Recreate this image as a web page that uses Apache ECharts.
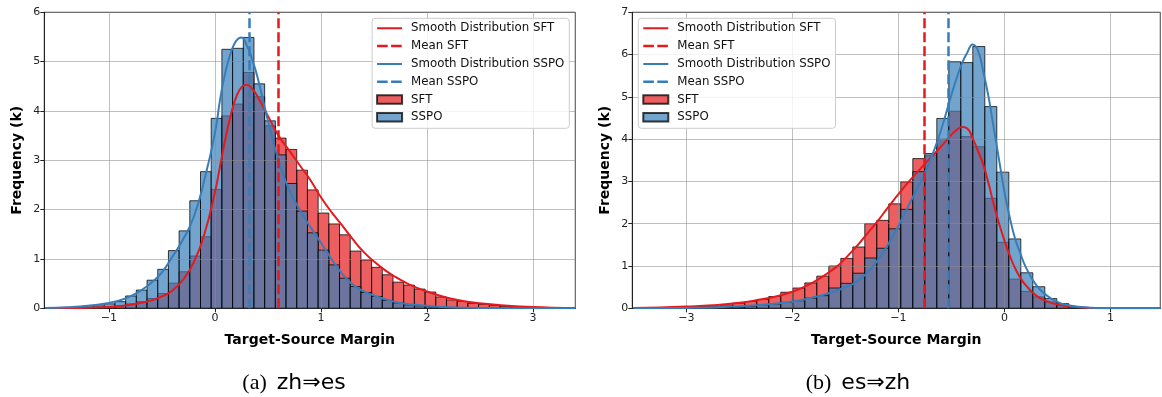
<!DOCTYPE html>
<html>
<head>
<meta charset="utf-8">
<script src="https://cdn.jsdelivr.net/npm/echarts@6.0.0/dist/echarts.min.js"></script>
<style>
html,body{margin:0;padding:0;background:#ffffff;}
#chart{width:1162px;height:397px;}
</style>
</head>
<body>
<div id="chart"></div>
<script>
// ================= DATA =================
// Panel (a) zh⇒es : histogram bins (frequency in thousands)
const binStartA = -1.347;
const binWidthA = 0.1009;
const sftCountsA = [0.005,0.01,0.01,0.03,0.05,0.09,0.135,0.20,0.30,0.51,0.74,1.06,1.45,2.41,3.90,4.14,4.78,4.29,3.70,3.45,3.22,2.80,2.40,1.93,1.71,1.49,1.16,0.98,0.83,0.68,0.53,0.47,0.39,0.33,0.23,0.17,0.14,0.10,0.08,0.055,0.04,0.03,0.02,0.015,0.01,0.008];
const sspoCountsA = [0.015,0.03,0.05,0.09,0.135,0.25,0.37,0.57,0.79,1.17,1.57,2.18,2.77,3.85,5.25,5.27,5.49,4.55,3.80,3.11,2.53,1.97,1.53,1.18,0.88,0.61,0.44,0.32,0.24,0.16,0.11,0.07,0.05,0.03,0.02,0.01,0.005,0,0,0,0,0,0,0,0,0];
// Panel (a) smooth distributions
const kdeXA = [-1.6,-1.4,-1.2,-1.0,-0.9,-0.8,-0.7,-0.6,-0.5,-0.4,-0.3,-0.2,-0.1,0,0.05,0.1,0.15,0.2,0.25,0.3,0.35,0.4,0.5,0.6,0.7,0.8,0.9,1.0,1.1,1.2,1.3,1.4,1.5,1.6,1.7,1.8,1.9,2.0,2.2,2.4,2.6,2.8,3.0,3.2,3.4];
const kdeSftA = [0.002,0.006,0.012,0.025,0.045,0.07,0.11,0.16,0.24,0.36,0.58,0.93,1.5,2.35,2.9,3.45,3.92,4.28,4.48,4.53,4.45,4.3,3.9,3.5,3.2,2.9,2.6,2.25,1.95,1.68,1.4,1.15,0.95,0.78,0.64,0.52,0.42,0.34,0.21,0.13,0.08,0.045,0.025,0.012,0.005];
const kdeSspoA = [0.005,0.02,0.05,0.11,0.16,0.24,0.36,0.52,0.73,1.05,1.4,1.85,2.6,3.55,4.25,4.8,5.18,5.42,5.49,5.33,5.05,4.7,3.8,3.0,2.4,2.0,1.65,1.33,1.0,0.7,0.48,0.35,0.26,0.19,0.13,0.09,0.07,0.05,0.02,0.01,0.005,0.002,0.001,0,0];
const meanSftA = 0.605;
const meanSspoA = 0.32;

// Panel (b) es⇒zh : histogram bins
const binStartB = -3.468;
const binWidthB = 0.1132;
const sftCountsB = [0.005,0.01,0.015,0.02,0.03,0.04,0.05,0.08,0.12,0.16,0.21,0.28,0.38,0.48,0.60,0.76,1.00,1.18,1.45,2.00,2.08,2.47,2.99,3.54,3.62,4.00,4.66,4.06,3.82,2.60,1.56,0.69,0.40,0.27,0.15,0.08,0.03,0.01];
const sspoCountsB = [0,0,0,0.003,0.005,0.008,0.01,0.02,0.03,0.05,0.08,0.10,0.14,0.18,0.24,0.30,0.48,0.59,0.83,1.19,1.42,1.88,2.34,3.23,3.66,4.49,5.83,5.81,6.19,4.77,3.22,1.64,0.84,0.51,0.23,0.11,0.04,0.02];
// Panel (b) smooth distributions
const kdeXB = [-3.5,-3.25,-3.0,-2.75,-2.5,-2.25,-2.0,-1.8,-1.6,-1.5,-1.4,-1.3,-1.2,-1.1,-1.0,-0.9,-0.8,-0.7,-0.6,-0.5,-0.45,-0.4,-0.35,-0.3,-0.25,-0.2,-0.15,-0.1,-0.05,0,0.05,0.1,0.15,0.2,0.3,0.4,0.5,0.6,0.8,1.0,1.2,1.47];
const kdeSftB = [0.01,0.02,0.04,0.07,0.13,0.23,0.39,0.62,0.95,1.18,1.45,1.75,2.05,2.38,2.7,3.0,3.28,3.55,3.82,4.1,4.22,4.29,4.25,4.02,3.72,3.4,2.95,2.45,2.0,1.6,1.25,0.95,0.72,0.55,0.3,0.17,0.09,0.045,0.01,0.003,0.001,0];
const kdeSspoB = [0,0.003,0.008,0.02,0.05,0.09,0.16,0.26,0.4,0.5,0.62,0.83,1.12,1.5,1.95,2.45,2.95,3.5,4.2,5.05,5.45,5.8,6.05,6.24,6.1,5.6,5.0,4.25,3.5,2.75,2.15,1.65,1.3,0.98,0.55,0.3,0.15,0.07,0.015,0.003,0.001,0];
const meanSftB = -0.758;
const meanSspoB = -0.525;

// Text
const xAxisTitle = 'Target-Source Margin';
const yAxisTitle = 'Frequency (k)';
const captionA = ['(a)', 'zh⇒es'];
const captionB = ['(b)', 'es⇒zh'];
const legendNames = ['Smooth Distribution SFT', 'Mean SFT', 'Smooth Distribution SSPO', 'Mean SSPO', 'SFT', 'SSPO'];

// ================= STYLE =================
const FONT = "'DejaVu Sans', sans-serif";
const RED = '#e41a1c';
const BLUE = '#377eb8';
const RED_FILL = 'rgba(228,26,28,0.7)';
const BLUE_FILL = 'rgba(55,126,184,0.7)';
const EDGE = 'rgba(0,0,0,0.75)';
const DASH = [10, 4];
const GRID_LINE = 'rgba(140,140,140,0.55)';
// legend icons (tiny corner dots keep the icon box at 25 x 8.5)
const SOLID_ICON = 'path://M0,0h0.01v0.01h-0.01z M0,3.25h25v2h-25z M24.99,8.49h0.01v0.01h-0.01z';
const DASH_ICON = 'path://M0,0h0.01v0.01h-0.01z M0,3h10.6v2.5h-10.6z M14,3h10.6v2.5h-10.6z M24.99,8.49h0.01v0.01h-0.01z';

function toBins(start, width, counts) {
  return counts.map((c, i) => [start + i * width, start + (i + 1) * width, c]);
}
function toPairs(xs, ys) { return xs.map((x, i) => [x, ys[i]]); }

function histSeries(name, idx, bins, fill) {
  return {
    type: 'custom', name: name, xAxisIndex: idx, yAxisIndex: idx, z: 1,
    itemStyle: { color: fill, borderColor: EDGE, borderWidth: 1 },
    encode: { x: [0, 1], y: 2 },
    silent: true,
    data: bins,
    renderItem: function (params, api) {
      const h = api.value(2);
      if (!(h > 0)) return null;
      const a = api.coord([api.value(0), h]);
      const b = api.coord([api.value(1), 0]);
      return {
        type: 'rect',
        shape: { x: a[0], y: a[1], width: b[0] - a[0], height: b[1] - a[1] },
        style: { fill: fill, stroke: EDGE, lineWidth: 1 }
      };
    }
  };
}
function kdeSeries(name, idx, data, color) {
  return {
    type: 'line', name: name, xAxisIndex: idx, yAxisIndex: idx, z: 3,
    data: data, symbol: 'none', smooth: 0.5, silent: true,
    lineStyle: { color: color, width: 2 }, itemStyle: { color: color }
  };
}
function meanSeries(name, idx, mean, color) {
  return {
    type: 'line', name: name, xAxisIndex: idx, yAxisIndex: idx, z: 4,
    data: [], symbol: 'none', silent: true,
    lineStyle: { color: color, width: 2.5, type: DASH }, itemStyle: { color: color },
    markLine: {
      silent: true, symbol: ['none', 'none'], label: { show: false },
      lineStyle: { color: color, width: 2.5, type: DASH },
      emphasis: { disabled: true },
      data: [{ xAxis: mean }]
    }
  };
}
const minus = v => String(v).replace('-', '\u2212');

function xAxisFor(idx, min, max) {
  return {
    type: 'value', gridIndex: idx, min: min, max: max, minInterval: 1, maxInterval: 1, z: 2,
    name: xAxisTitle, nameLocation: 'middle', nameGap: 25,
    nameTextStyle: { fontFamily: FONT, fontWeight: 'bold', fontSize: 14, color: '#000' },
    axisLine: { show: true, onZero: false, lineStyle: { color: '#222', width: 1 } },
    axisTick: { show: true, length: 4, lineStyle: { color: '#222', width: 1 } },
    axisLabel: { fontFamily: FONT, fontSize: 11, color: '#222', margin: 4, showMinLabel: false, showMaxLabel: false, formatter: minus },
    splitLine: { show: true, lineStyle: { color: GRID_LINE, width: 1 } }
  };
}
function yAxisFor(idx, max) {
  return {
    type: 'value', gridIndex: idx, min: 0, max: max, interval: 1, z: 2,
    name: yAxisTitle, nameLocation: 'middle', nameGap: 20, nameRotate: 90,
    nameTextStyle: { fontFamily: FONT, fontWeight: 'bold', fontSize: 14, color: '#000' },
    axisLine: { show: true, onZero: false, lineStyle: { color: '#222', width: 1 } },
    axisTick: { show: true, length: 4, lineStyle: { color: '#222', width: 1 } },
    axisLabel: { fontFamily: FONT, fontSize: 11, color: '#222', margin: 4 },
    splitLine: { show: true, lineStyle: { color: GRID_LINE, width: 1 } }
  };
}
function legendItem(name) {
  if (name === 'SFT') return { name: name, icon: 'rect' };
  if (name === 'SSPO') return { name: name, icon: 'rect' };
  const color = name.indexOf('SFT') >= 0 ? RED : BLUE;
  const icon = name.indexOf('Mean') === 0 ? DASH_ICON : SOLID_ICON;
  return { name: name, icon: icon, itemStyle: { color: color, borderWidth: 0 } };
}
function legendFor(pos) {
  return Object.assign({
    orient: 'vertical', top: 18.3, padding: [3, 5, 4, 4],
    itemWidth: 25, itemHeight: 8.5, itemGap: 3.8,
    backgroundColor: 'rgba(255,255,255,0.8)', borderColor: '#cccccc', borderWidth: 1, borderRadius: 3,
    textStyle: { fontFamily: FONT, fontSize: 11.8, color: '#111', lineHeight: 14, padding: [0, 0, 0, 4] },
    selectedMode: false, z: 10,
    data: legendNames.map(legendItem)
  }, pos);
}
function caption(x, parts) {
  return {
    type: 'text', x: x, y: 383, z: 10,
    style: {
      text: '{p|' + parts[0] + '}{q|' + parts[1] + '}',
      align: 'center', verticalAlign: 'middle',
      rich: {
        p: { fontFamily: "'Liberation Serif', serif", fontSize: 22, fill: '#000' },
        q: { fontFamily: FONT, fontSize: 22, fill: '#000', padding: [0, 0, 0, 10] }
      }
    }
  };
}

const option = {
  animation: false,
  backgroundColor: '#ffffff',
  grid: [
    { left: 44.3, top: 12.3, width: 531, height: 296, show: true, borderColor: '#222', borderWidth: 1, backgroundColor: 'transparent' },
    { left: 632.3, top: 12.3, width: 528, height: 296, show: true, borderColor: '#222', borderWidth: 1, backgroundColor: 'transparent' }
  ],
  xAxis: [xAxisFor(0, -1.61, 3.40), xAxisFor(1, -3.51, 1.47)],
  yAxis: [yAxisFor(0, 6), yAxisFor(1, 7)],
  legend: [legendFor({ right: 592.7 }), legendFor({ left: 638.3 })],
  graphic: [caption(294, captionA), caption(858, captionB)],
  series: [
    histSeries('SFT', 0, toBins(binStartA, binWidthA, sftCountsA), RED_FILL),
    histSeries('SSPO', 0, toBins(binStartA, binWidthA, sspoCountsA), BLUE_FILL),
    kdeSeries('Smooth Distribution SFT', 0, toPairs(kdeXA, kdeSftA), RED),
    kdeSeries('Smooth Distribution SSPO', 0, toPairs(kdeXA, kdeSspoA), BLUE),
    meanSeries('Mean SFT', 0, meanSftA, RED),
    meanSeries('Mean SSPO', 0, meanSspoA, BLUE),
    histSeries('SFT', 1, toBins(binStartB, binWidthB, sftCountsB), RED_FILL),
    histSeries('SSPO', 1, toBins(binStartB, binWidthB, sspoCountsB), BLUE_FILL),
    kdeSeries('Smooth Distribution SFT', 1, toPairs(kdeXB, kdeSftB), RED),
    kdeSeries('Smooth Distribution SSPO', 1, toPairs(kdeXB, kdeSspoB), BLUE),
    meanSeries('Mean SFT', 1, meanSftB, RED),
    meanSeries('Mean SSPO', 1, meanSspoB, BLUE)
  ]
};

const chart = echarts.init(document.getElementById('chart'), null, { renderer: 'canvas' });
chart.setOption(option);
</script>
</body>
</html>
